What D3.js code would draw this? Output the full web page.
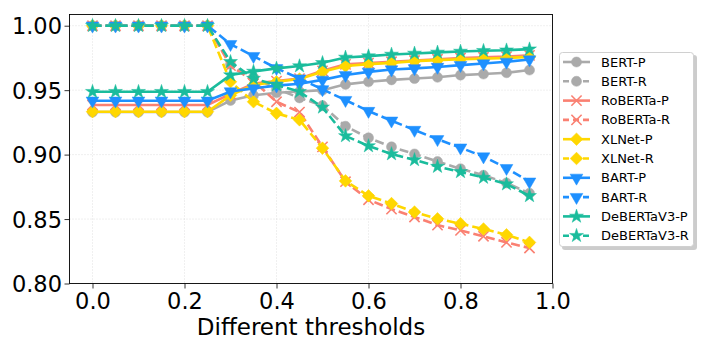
<!DOCTYPE html>
<html>
<head>
<meta charset="utf-8">
<script src="https://cdn.jsdelivr.net/npm/d3@7"></script>
<style>
  body { margin: 0; background: #fff; }
  svg { font-family: "DejaVu Sans", sans-serif; }
</style>
</head>
<body>
<svg id="chart" width="706" height="353"></svg>
<script>
// thresholds on the x axis
var thresholds = [0, 0.05, 0.1, 0.15, 0.2, 0.25, 0.3, 0.35, 0.4, 0.45, 0.5, 0.55, 0.6, 0.65, 0.7, 0.75, 0.8, 0.85, 0.9, 0.95];

var bertP = [0.933, 0.933, 0.933, 0.933, 0.933, 0.933, 0.942, 0.946, 0.948, 0.949, 0.950, 0.9545, 0.9565, 0.958, 0.959, 0.960, 0.9617, 0.9625, 0.9635, 0.9656];
var bertR = [1, 1, 1, 1, 1, 1, 0.970, 0.960, 0.951, 0.944, 0.938, 0.922, 0.913, 0.906, 0.9005, 0.8946, 0.889, 0.884, 0.878, 0.870];
var robertaP = [0.9385, 0.9385, 0.9385, 0.9385, 0.9385, 0.9385, 0.947, 0.955, 0.957, 0.959, 0.965, 0.970, 0.971, 0.972, 0.973, 0.974, 0.975, 0.9755, 0.976, 0.977];
var robertaR = [1, 1, 1, 1, 1, 1, 0.969, 0.957, 0.941, 0.933, 0.906, 0.879, 0.865, 0.8577, 0.8516, 0.8453, 0.8412, 0.8366, 0.8319, 0.8275];
var xlnetP = [0.9333, 0.9333, 0.9333, 0.9333, 0.9333, 0.9333, 0.946, 0.954, 0.9565, 0.9586, 0.9642, 0.9687, 0.9702, 0.9712, 0.9725, 0.9733, 0.974, 0.9745, 0.975, 0.9758];
var xlnetR = [1, 1, 1, 1, 1, 1, 0.9565, 0.941, 0.932, 0.927, 0.905, 0.8796, 0.868, 0.862, 0.8554, 0.8502, 0.8464, 0.8423, 0.8378, 0.8319];
var bartP = [0.9418, 0.9418, 0.9418, 0.9418, 0.9418, 0.9418, 0.949, 0.9514, 0.9535, 0.955, 0.958, 0.9617, 0.9642, 0.966, 0.9669, 0.968, 0.9694, 0.9707, 0.972, 0.9738];
var bartR = [1, 1, 1, 1, 1, 1, 0.9857, 0.9764, 0.967, 0.959, 0.9506, 0.9423, 0.9338, 0.9263, 0.9191, 0.9119, 0.9054, 0.8985, 0.8895, 0.879];
var debertaP = [0.9488, 0.9488, 0.9488, 0.9488, 0.9488, 0.9488, 0.9617, 0.9645, 0.9669, 0.9687, 0.9712, 0.9754, 0.9764, 0.9777, 0.9785, 0.9793, 0.980, 0.9806, 0.981, 0.9818];
var debertaR = [1, 1, 1, 1, 1, 1, 0.972, 0.959, 0.954, 0.9488, 0.9367, 0.9145, 0.9067, 0.9005, 0.8959, 0.8907, 0.8866, 0.8822, 0.8771, 0.868];

var xTicks = [0, 0.2, 0.4, 0.6, 0.8, 1.0];
var yTicks = [0.80, 0.85, 0.90, 0.95, 1.00];

var series = [
  { name: "BERT-P", values: bertP, color: "#aaaaaa", marker: "circle", dash: false },
  { name: "BERT-R", values: bertR, color: "#aaaaaa", marker: "circle", dash: true },
  { name: "RoBERTa-P", values: robertaP, color: "#fa8072", marker: "x", dash: false },
  { name: "RoBERTa-R", values: robertaR, color: "#fa8072", marker: "x", dash: true },
  { name: "XLNet-P", values: xlnetP, color: "#ffd700", marker: "diamond", dash: false },
  { name: "XLNet-R", values: xlnetR, color: "#ffd700", marker: "diamond", dash: true },
  { name: "BART-P", values: bartP, color: "#1e90ff", marker: "tri", dash: false },
  { name: "BART-R", values: bartR, color: "#1e90ff", marker: "tri", dash: true },
  { name: "DeBERTaV3-P", values: debertaP, color: "#1abc9c", marker: "star", dash: false },
  { name: "DeBERTaV3-R", values: debertaR, color: "#1abc9c", marker: "star", dash: true }
];

var svg = d3.select("#chart");
var pLeft = 69.5, pRight = 552.5, pTop = 14.5, pBottom = 283.5;

var x = d3.scaleLinear().domain([-0.05, 1.0]).range([pLeft, pRight]);
var y = d3.scaleLinear().domain([0.80, 1.0087]).range([pBottom, pTop]);

// grid
var grid = svg.append("g");
grid.selectAll("line.gx").data(xTicks).enter().append("line")
  .attr("x1", d => x(d)).attr("x2", d => x(d))
  .attr("y1", pTop).attr("y2", pBottom)
  .attr("stroke", "#d8d8d8").attr("stroke-width", 0.8).attr("stroke-dasharray", "1,2");
grid.selectAll("line.gy").data(yTicks).enter().append("line")
  .attr("x1", pLeft).attr("x2", pRight)
  .attr("y1", d => y(d)).attr("y2", d => y(d))
  .attr("stroke", "#d8d8d8").attr("stroke-width", 0.8).attr("stroke-dasharray", "1,2");

// axes
var xAxis = svg.append("g").attr("transform", "translate(0," + pBottom + ")")
  .call(d3.axisBottom(x).tickValues(xTicks).tickFormat(d3.format(".1f")).tickSizeOuter(0).tickSize(5));
var yAxis = svg.append("g").attr("transform", "translate(" + pLeft + ",0)")
  .call(d3.axisLeft(y).tickValues(yTicks).tickFormat(d3.format(".2f")).tickSizeOuter(0).tickSize(5));
[xAxis, yAxis].forEach(function(a) {
  a.select(".domain").remove();
  a.selectAll("text").attr("font-size", 22.5).attr("font-family", "DejaVu Sans").attr("fill", "#000");
  a.selectAll("line").attr("stroke", "#000").attr("stroke-width", 0.8);
});
xAxis.selectAll("text").attr("dy", null).attr("y", 25);
yAxis.selectAll("text").attr("x", -7.5).attr("dy", "0.36em");

// frame
svg.append("rect").attr("x", pLeft).attr("y", pTop)
  .attr("width", pRight - pLeft).attr("height", pBottom - pTop)
  .attr("fill", "none").attr("stroke", "#000").attr("stroke-width", 0.9);

svg.append("text").attr("x", (pLeft + pRight) / 2).attr("y", 335)
  .attr("text-anchor", "middle").attr("font-size", 23).text("Different thresholds");

function markerPath(kind) {
  if (kind === "circle") return d3.symbol(d3.symbolCircle, 80)();
  if (kind === "x") return d3.symbol(d3.symbolX, 70)();
  if (kind === "diamond") return d3.symbol(d3.symbolSquare, 80)();
  if (kind === "tri") return d3.symbol(d3.symbolTriangle, 70)();
  return d3.symbol(d3.symbolStar, 60)();
}
function markerRotate(kind) {
  if (kind === "diamond") return 45;
  if (kind === "tri") return 180;
  return 0;
}
function drawMarker(g, kind, color, cx, cy) {
  var p = g.append("path")
    .attr("d", markerPath(kind))
    .attr("transform", "translate(" + cx + "," + cy + ") rotate(" + markerRotate(kind) + ")");
  if (kind === "x") {
    p.attr("fill", "none").attr("stroke", color).attr("stroke-width", 1.6);
  } else {
    p.attr("fill", color).attr("stroke", color).attr("stroke-width", 0.5);
  }
}

var line = d3.line().x((d, i) => x(thresholds[i])).y(d => y(d));

var plot = svg.append("g");
series.forEach(function(s) {
  var g = plot.append("g");
  g.append("path").datum(s.values)
    .attr("d", line)
    .attr("fill", "none").attr("stroke", s.color).attr("stroke-width", 2.6)
    .attr("stroke-dasharray", s.dash ? "9,4" : null);
  s.values.forEach(function(v, i) {
    drawMarker(g, s.marker, s.color, x(thresholds[i]), y(v));
  });
});

// legend
var lg = svg.append("g");
lg.append("rect").attr("x", 562).attr("y", 55).attr("width", 135).attr("height", 195)
  .attr("rx", 3).attr("fill", "#999").attr("opacity", 0.5);
lg.append("rect").attr("x", 559.5).attr("y", 52.5).attr("width", 134).attr("height", 194)
  .attr("rx", 3).attr("fill", "#fff").attr("stroke", "#d0d0d0").attr("stroke-width", 1);
series.forEach(function(s, i) {
  var cy = 62 + i * 19.3;
  lg.append("line").attr("x1", 563).attr("x2", 590).attr("y1", cy).attr("y2", cy)
    .attr("stroke", s.color).attr("stroke-width", 2.6)
    .attr("stroke-dasharray", s.dash ? "6,4" : null);
  drawMarker(lg, s.marker, s.color, 576.5, cy);
  lg.append("text").attr("x", 601).attr("y", cy).attr("dy", "0.35em")
    .attr("font-size", 13).text(s.name);
});
</script>
</body>
</html>
